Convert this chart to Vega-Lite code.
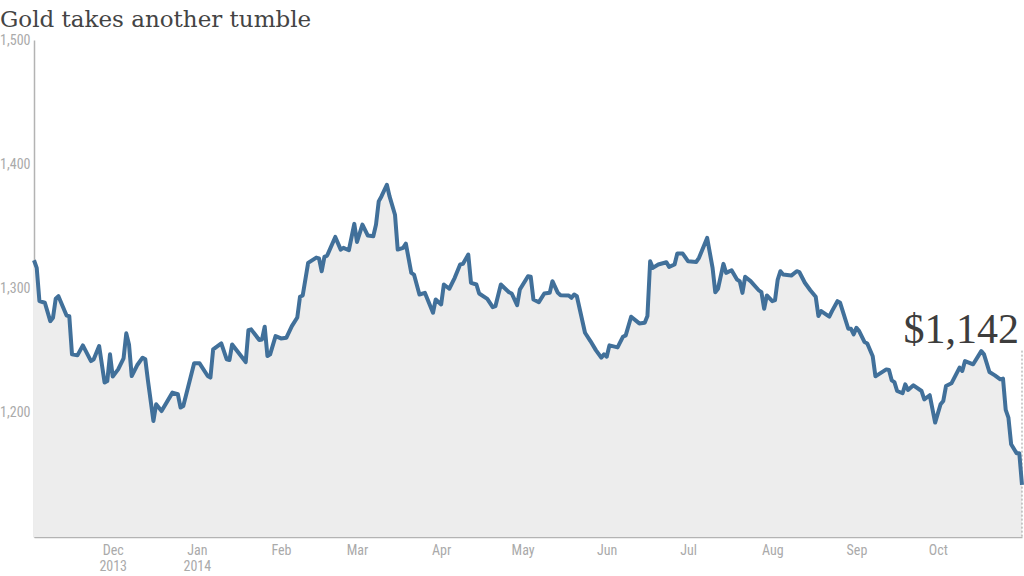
{
  "$schema": "https://vega.github.io/schema/vega-lite/v6.json",
  "width": 988,
  "height": 497,
  "autosize": {"type": "none"},
  "padding": {"left": 34, "top": 40, "right": 2, "bottom": 39},
  "background": "#ffffff",
  "title": {
    "text": "Gold takes another tumble",
    "anchor": "start",
    "frame": "group",
    "dx": -34,
    "dy": 17,
    "offset": 0,
    "baseline": "alphabetic",
    "font": "DejaVu Serif",
    "fontSize": 23,
    "fontWeight": "normal",
    "color": "#444444"
  },
  "data": {
    "format": {"parse": {"date": "date:'%Y-%m-%d'"}},
    "values": [
      {"date": "2013-11-02", "value": 1322.7},
      {"date": "2013-11-03", "value": 1316.6},
      {"date": "2013-11-04", "value": 1289.8},
      {"date": "2013-11-06", "value": 1288.5},
      {"date": "2013-11-08", "value": 1273.7},
      {"date": "2013-11-09", "value": 1276.5},
      {"date": "2013-11-10", "value": 1291.7},
      {"date": "2013-11-11", "value": 1293.8},
      {"date": "2013-11-14", "value": 1278.3},
      {"date": "2013-11-15", "value": 1277.8},
      {"date": "2013-11-16", "value": 1247.0},
      {"date": "2013-11-18", "value": 1246.2},
      {"date": "2013-11-20", "value": 1254.2},
      {"date": "2013-11-23", "value": 1241.6},
      {"date": "2013-11-24", "value": 1243.0},
      {"date": "2013-11-26", "value": 1253.7},
      {"date": "2013-11-28", "value": 1224.3},
      {"date": "2013-11-29", "value": 1225.6},
      {"date": "2013-11-30", "value": 1247.0},
      {"date": "2013-12-01", "value": 1229.1},
      {"date": "2013-12-03", "value": 1234.9},
      {"date": "2013-12-05", "value": 1243.8},
      {"date": "2013-12-06", "value": 1263.9},
      {"date": "2013-12-07", "value": 1255.0},
      {"date": "2013-12-08", "value": 1229.6},
      {"date": "2013-12-10", "value": 1238.2},
      {"date": "2013-12-12", "value": 1244.3},
      {"date": "2013-12-13", "value": 1243.0},
      {"date": "2013-12-14", "value": 1225.6},
      {"date": "2013-12-16", "value": 1193.4},
      {"date": "2013-12-17", "value": 1206.8},
      {"date": "2013-12-19", "value": 1201.4},
      {"date": "2013-12-23", "value": 1216.2},
      {"date": "2013-12-25", "value": 1214.9},
      {"date": "2013-12-26", "value": 1204.2},
      {"date": "2013-12-27", "value": 1205.5},
      {"date": "2013-12-31", "value": 1239.8},
      {"date": "2014-01-02", "value": 1239.8},
      {"date": "2014-01-05", "value": 1229.6},
      {"date": "2014-01-06", "value": 1228.3},
      {"date": "2014-01-07", "value": 1251.0},
      {"date": "2014-01-10", "value": 1255.8},
      {"date": "2014-01-12", "value": 1243.0},
      {"date": "2014-01-13", "value": 1242.4},
      {"date": "2014-01-14", "value": 1255.0},
      {"date": "2014-01-19", "value": 1240.8},
      {"date": "2014-01-20", "value": 1266.5},
      {"date": "2014-01-21", "value": 1267.1},
      {"date": "2014-01-24", "value": 1258.5},
      {"date": "2014-01-25", "value": 1259.0},
      {"date": "2014-01-26", "value": 1269.2},
      {"date": "2014-01-27", "value": 1245.6},
      {"date": "2014-01-28", "value": 1247.0},
      {"date": "2014-01-30", "value": 1261.7},
      {"date": "2014-02-01", "value": 1259.8},
      {"date": "2014-02-03", "value": 1260.4},
      {"date": "2014-02-05", "value": 1269.7},
      {"date": "2014-02-07", "value": 1276.7},
      {"date": "2014-02-08", "value": 1293.3},
      {"date": "2014-02-09", "value": 1294.4},
      {"date": "2014-02-11", "value": 1320.6},
      {"date": "2014-02-14", "value": 1324.9},
      {"date": "2014-02-15", "value": 1324.3},
      {"date": "2014-02-16", "value": 1313.9},
      {"date": "2014-02-17", "value": 1325.5},
      {"date": "2014-02-18", "value": 1326.5},
      {"date": "2014-02-21", "value": 1341.5},
      {"date": "2014-02-23", "value": 1331.3},
      {"date": "2014-02-24", "value": 1332.7},
      {"date": "2014-02-26", "value": 1330.8},
      {"date": "2014-02-28", "value": 1352.0},
      {"date": "2014-03-01", "value": 1337.5},
      {"date": "2014-03-03", "value": 1351.4},
      {"date": "2014-03-05", "value": 1342.6},
      {"date": "2014-03-07", "value": 1342.0},
      {"date": "2014-03-08", "value": 1351.4},
      {"date": "2014-03-09", "value": 1370.1},
      {"date": "2014-03-10", "value": 1374.1},
      {"date": "2014-03-12", "value": 1383.5},
      {"date": "2014-03-13", "value": 1374.1},
      {"date": "2014-03-15", "value": 1359.4},
      {"date": "2014-03-16", "value": 1331.3},
      {"date": "2014-03-18", "value": 1332.7},
      {"date": "2014-03-19", "value": 1336.1},
      {"date": "2014-03-21", "value": 1312.6},
      {"date": "2014-03-22", "value": 1311.2},
      {"date": "2014-03-24", "value": 1295.2},
      {"date": "2014-03-26", "value": 1296.5},
      {"date": "2014-03-29", "value": 1280.5},
      {"date": "2014-03-30", "value": 1291.2},
      {"date": "2014-04-01", "value": 1287.2},
      {"date": "2014-04-02", "value": 1303.2},
      {"date": "2014-04-04", "value": 1299.8},
      {"date": "2014-04-06", "value": 1308.6},
      {"date": "2014-04-08", "value": 1319.3},
      {"date": "2014-04-09", "value": 1319.8},
      {"date": "2014-04-11", "value": 1327.3},
      {"date": "2014-04-12", "value": 1304.6},
      {"date": "2014-04-14", "value": 1303.2},
      {"date": "2014-04-15", "value": 1296.0},
      {"date": "2014-04-18", "value": 1291.7},
      {"date": "2014-04-20", "value": 1285.0},
      {"date": "2014-04-21", "value": 1285.8},
      {"date": "2014-04-23", "value": 1303.2},
      {"date": "2014-04-26", "value": 1297.0},
      {"date": "2014-04-27", "value": 1296.0},
      {"date": "2014-04-29", "value": 1286.6},
      {"date": "2014-04-30", "value": 1299.2},
      {"date": "2014-05-03", "value": 1309.9},
      {"date": "2014-05-04", "value": 1309.4},
      {"date": "2014-05-05", "value": 1291.2},
      {"date": "2014-05-07", "value": 1289.0},
      {"date": "2014-05-09", "value": 1296.0},
      {"date": "2014-05-11", "value": 1296.5},
      {"date": "2014-05-12", "value": 1305.9},
      {"date": "2014-05-14", "value": 1296.5},
      {"date": "2014-05-15", "value": 1294.6},
      {"date": "2014-05-18", "value": 1294.4},
      {"date": "2014-05-19", "value": 1292.5},
      {"date": "2014-05-20", "value": 1295.2},
      {"date": "2014-05-21", "value": 1293.8},
      {"date": "2014-05-24", "value": 1264.4},
      {"date": "2014-05-26", "value": 1257.7},
      {"date": "2014-05-28", "value": 1250.4},
      {"date": "2014-05-30", "value": 1244.3},
      {"date": "2014-05-31", "value": 1247.0},
      {"date": "2014-06-01", "value": 1245.1},
      {"date": "2014-06-02", "value": 1254.2},
      {"date": "2014-06-05", "value": 1252.6},
      {"date": "2014-06-07", "value": 1261.2},
      {"date": "2014-06-08", "value": 1262.3},
      {"date": "2014-06-10", "value": 1277.3},
      {"date": "2014-06-13", "value": 1271.9},
      {"date": "2014-06-15", "value": 1272.4},
      {"date": "2014-06-16", "value": 1277.8},
      {"date": "2014-06-17", "value": 1321.9},
      {"date": "2014-06-18", "value": 1316.6},
      {"date": "2014-06-20", "value": 1319.3},
      {"date": "2014-06-23", "value": 1321.1},
      {"date": "2014-06-24", "value": 1317.4},
      {"date": "2014-06-26", "value": 1319.3},
      {"date": "2014-06-27", "value": 1328.1},
      {"date": "2014-06-29", "value": 1328.1},
      {"date": "2014-07-01", "value": 1321.9},
      {"date": "2014-07-04", "value": 1321.4},
      {"date": "2014-07-05", "value": 1324.7},
      {"date": "2014-07-08", "value": 1340.7},
      {"date": "2014-07-10", "value": 1316.6},
      {"date": "2014-07-11", "value": 1297.0},
      {"date": "2014-07-12", "value": 1299.8},
      {"date": "2014-07-14", "value": 1319.8},
      {"date": "2014-07-15", "value": 1312.6},
      {"date": "2014-07-17", "value": 1314.7},
      {"date": "2014-07-19", "value": 1307.2},
      {"date": "2014-07-20", "value": 1305.9},
      {"date": "2014-07-21", "value": 1296.5},
      {"date": "2014-07-22", "value": 1309.4},
      {"date": "2014-07-24", "value": 1305.9},
      {"date": "2014-07-27", "value": 1298.6},
      {"date": "2014-07-28", "value": 1297.0},
      {"date": "2014-07-29", "value": 1283.7},
      {"date": "2014-07-30", "value": 1294.4},
      {"date": "2014-08-01", "value": 1289.8},
      {"date": "2014-08-02", "value": 1290.6},
      {"date": "2014-08-03", "value": 1307.2},
      {"date": "2014-08-04", "value": 1313.9},
      {"date": "2014-08-05", "value": 1311.2},
      {"date": "2014-08-08", "value": 1310.4},
      {"date": "2014-08-10", "value": 1313.9},
      {"date": "2014-08-11", "value": 1313.1},
      {"date": "2014-08-13", "value": 1304.6},
      {"date": "2014-08-15", "value": 1298.6},
      {"date": "2014-08-17", "value": 1293.3},
      {"date": "2014-08-18", "value": 1277.8},
      {"date": "2014-08-19", "value": 1281.8},
      {"date": "2014-08-22", "value": 1277.3},
      {"date": "2014-08-23", "value": 1281.8},
      {"date": "2014-08-25", "value": 1289.8},
      {"date": "2014-08-26", "value": 1288.5},
      {"date": "2014-08-29", "value": 1267.6},
      {"date": "2014-08-30", "value": 1267.6},
      {"date": "2014-08-31", "value": 1263.1},
      {"date": "2014-09-01", "value": 1268.4},
      {"date": "2014-09-02", "value": 1265.7},
      {"date": "2014-09-04", "value": 1256.9},
      {"date": "2014-09-05", "value": 1255.8},
      {"date": "2014-09-07", "value": 1245.4},
      {"date": "2014-09-08", "value": 1229.3},
      {"date": "2014-09-12", "value": 1234.9},
      {"date": "2014-09-13", "value": 1234.4},
      {"date": "2014-09-14", "value": 1226.1},
      {"date": "2014-09-15", "value": 1224.7},
      {"date": "2014-09-16", "value": 1217.5},
      {"date": "2014-09-18", "value": 1215.7},
      {"date": "2014-09-19", "value": 1222.9},
      {"date": "2014-09-20", "value": 1218.3},
      {"date": "2014-09-22", "value": 1222.1},
      {"date": "2014-09-25", "value": 1217.5},
      {"date": "2014-09-26", "value": 1210.8},
      {"date": "2014-09-28", "value": 1214.1},
      {"date": "2014-09-30", "value": 1192.1},
      {"date": "2014-10-02", "value": 1206.8},
      {"date": "2014-10-03", "value": 1209.5},
      {"date": "2014-10-04", "value": 1221.5},
      {"date": "2014-10-06", "value": 1223.7},
      {"date": "2014-10-09", "value": 1236.3},
      {"date": "2014-10-10", "value": 1233.6},
      {"date": "2014-10-11", "value": 1241.6},
      {"date": "2014-10-14", "value": 1239.0},
      {"date": "2014-10-17", "value": 1249.6},
      {"date": "2014-10-18", "value": 1247.0},
      {"date": "2014-10-20", "value": 1232.8},
      {"date": "2014-10-22", "value": 1230.1},
      {"date": "2014-10-24", "value": 1226.9},
      {"date": "2014-10-25", "value": 1227.5},
      {"date": "2014-10-26", "value": 1202.3},
      {"date": "2014-10-27", "value": 1196.1},
      {"date": "2014-10-28", "value": 1174.7},
      {"date": "2014-10-30", "value": 1167.5},
      {"date": "2014-10-31", "value": 1167.5},
      {"date": "2014-11-01", "value": 1142}
    ]
  },
  "encoding": {
    "x": {
      "field": "date",
      "type": "temporal",
      "scale": {
        "domain": [
          {"year": 2013, "month": 11, "date": 2},
          {"year": 2014, "month": 11, "date": 1}
        ]
      },
      "axis": {
        "title": null,
        "tickCount": {"interval": "month", "step": 1},
        "labelExpr": "month(datum.value) == 10 ? '' : [timeFormat(datum.value, '%b'), (month(datum.value) == 11 || month(datum.value) == 0) ? timeFormat(datum.value, '%Y') : '']",
        "labelFont": "Liberation Sans Narrow, Roboto Condensed, Liberation Sans",
        "labelFontSize": 14,
        "labelColor": "#aaaaaa",
        "labelPadding": 6,
        "labelLineHeight": 16,
        "labelAlign": "center",
        "labelBaseline": "top",
        "ticks": false,
        "tickSize": 0,
        "grid": false,
        "domainColor": "#b3b3b3",
        "domainWidth": 1.5,
        "labelOverlap": false,
        "labelFlush": false
      }
    },
    "y": {
      "field": "value",
      "type": "quantitative",
      "scale": {"domain": [1100, 1500], "zero": false, "nice": false},
      "axis": {
        "title": null,
        "values": [1200, 1300, 1400, 1500],
        "format": ",.0f",
        "labelFont": "Liberation Sans Narrow, Roboto Condensed, Liberation Sans",
        "labelFontSize": 14,
        "labelColor": "#aaaaaa",
        "labelPadding": 4,
        "ticks": false,
        "tickSize": 0,
        "grid": false,
        "domainColor": "#b3b3b3",
        "domainWidth": 1.5
      }
    }
  },
  "layer": [
    {
      "mark": {"type": "area", "color": "#ededed"},
      "encoding": {"y2": {"datum": 1100}}
    },
    {
      "transform": [{"filter": "datum.value === 1142"}],
      "mark": {"type": "rule", "color": "#999999", "strokeWidth": 1, "strokeDash": [2, 2]},
      "encoding": {"y": {"datum": 1250}, "y2": {"datum": 1100}}
    },
    {
      "mark": {"type": "line", "color": "#41709a", "strokeWidth": 4, "strokeJoin": "round", "strokeCap": "butt"}
    },
    {
      "transform": [{"filter": "datum.value === 1142"}],
      "mark": {
        "type": "text",
        "align": "right",
        "baseline": "alphabetic",
        "dx": -3,
        "dy": -142,
        "font": "Liberation Serif",
        "fontSize": 42,
        "color": "#3d3d3d"
      },
      "encoding": {"text": {"field": "value", "type": "quantitative", "format": "$,.0f"}}
    }
  ],
  "config": {"view": {"stroke": null}}
}
